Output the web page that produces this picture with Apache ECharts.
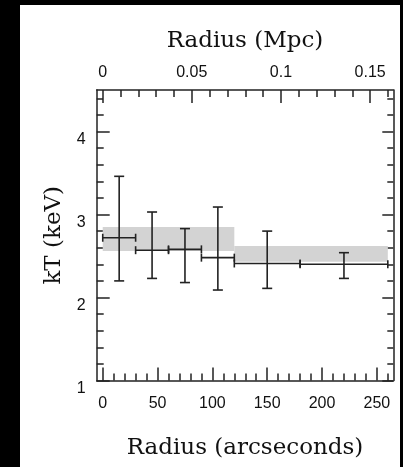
<!DOCTYPE html>
<html>
<head>
<meta charset="utf-8">
<script src="https://cdn.jsdelivr.net/npm/echarts@6/dist/echarts.min.js"></script>
<style>
  html, body { margin: 0; padding: 0; background: #000; }
  #chart { position: absolute; left: 20px; top: 5px; width: 380px; height: 462px; background: #fff; }
</style>
</head>
<body>
<div id="chart"></div>
<script>
// temperature profile: bins in arcsec, kT in keV
const binLo = [0, 30, 60, 90, 120, 180]
const binHi = [30, 60, 90, 120, 180, 260]
const binMid = [15, 45, 75, 105, 150, 220]
const kT = [2.72, 2.57, 2.58, 2.48, 2.41, 2.40]
const kTLo = [2.20, 2.23, 2.18, 2.09, 2.11, 2.23]
const kTHi = [3.46, 3.03, 2.83, 3.09, 2.80, 2.54]

// shaded bands (deprojected / mean fits)
const bandLo = [0, 120]
const bandHi = [120, 260]
const bandMin = [2.56, 2.43]
const bandMax = [2.85, 2.62]

// ticks
const arcMajor = [0, 50, 100, 150, 200, 250]
const arcMinor = [10, 20, 30, 40, 60, 70, 80, 90, 110, 120, 130, 140, 160, 170, 180, 190, 210, 220, 230, 240, 260]
const mpcMajor = [0, 0.05, 0.1, 0.15]
const mpcMinor = [0.01, 0.02, 0.03, 0.04, 0.06, 0.07, 0.08, 0.09, 0.11, 0.12, 0.13, 0.14, 0.16]
const kTMajor = [1, 2, 3, 4]
const kTMinor = [1.2, 1.4, 1.6, 1.8, 2.2, 2.4, 2.6, 2.8, 3.2, 3.4, 3.6, 3.8, 4.2, 4.4]

const INK = '#222'
const labelFont = { color: '#111', fontFamily: 'Liberation Sans', fontSize: 16 }
const nameFont = { color: '#111', fontFamily: 'DejaVu Serif', fontSize: 23 }

const chart = echarts.init(document.getElementById('chart'), null, { renderer: 'canvas' })

function tickAxis(base, values, len, withLabels, extra) {
  return Object.assign({
    type: 'value',
    splitLine: { show: false },
    axisLine: { show: withLabels, onZero: false, lineStyle: { color: INK, width: 1.5 } },
    axisTick: { show: true, inside: true, length: len, customValues: values, lineStyle: { color: INK, width: 1.5 } },
    axisLabel: Object.assign({ show: withLabels, customValues: values }, labelFont),
  }, base, extra || {})
}

const xMin = -5.5, xMax = 265
const mMin = -0.0033, mMax = 0.163

chart.setOption({
  animation: false,
  grid: { left: 76.7, right: 6.7, top: 85, bottom: 86.5, show: false },
  xAxis: [
    tickAxis({ position: 'bottom', min: xMin, max: xMax }, arcMajor, 13, true, {
      name: 'Radius (arcseconds)', nameLocation: 'middle', nameGap: 56, nameTextStyle: nameFont,
      axisLabel: Object.assign({ show: true, customValues: arcMajor, margin: 15 }, labelFont),
    }),
    tickAxis({ position: 'bottom', min: xMin, max: xMax }, arcMinor, 7, false),
    tickAxis({ position: 'top', min: mMin, max: mMax }, mpcMajor, 13, true, {
      name: 'Radius (Mpc)', nameLocation: 'middle', nameGap: 37, nameTextStyle: nameFont,
      axisLabel: Object.assign({ show: true, customValues: mpcMajor, margin: 9 }, labelFont),
    }),
    tickAxis({ position: 'top', min: mMin, max: mMax }, mpcMinor, 7, false),
  ],
  yAxis: [
    tickAxis({ position: 'left', min: 1, max: 4.5 }, kTMajor, 13, true, {
      name: 'kT (keV)', nameLocation: 'middle', nameGap: 28, nameTextStyle: nameFont,
      axisLabel: Object.assign({ show: true, customValues: kTMajor, margin: 11, verticalAlign: 'top' }, labelFont),
    }),
    tickAxis({ position: 'left', min: 1, max: 4.5 }, kTMinor, 7, false),
    tickAxis({ position: 'right', min: 1, max: 4.5 }, kTMajor, 11, true, {
      axisLabel: { show: false, customValues: kTMajor },
    }),
    tickAxis({ position: 'right', min: 1, max: 4.5 }, kTMinor, 6, false),
  ],
  series: [
    {
      type: 'custom',
      xAxisIndex: 0, yAxisIndex: 0,
      z: 1,
      data: bandLo.map((x, i) => [x, bandHi[i], bandMin[i], bandMax[i]]),
      encode: { x: [0, 1], y: [2, 3] },
      renderItem: (params, api) => {
        const p0 = api.coord([api.value(0), api.value(3)])
        const p1 = api.coord([api.value(1), api.value(2)])
        return {
          type: 'rect',
          shape: { x: p0[0], y: p0[1], width: p1[0] - p0[0], height: p1[1] - p0[1] },
          style: { fill: '#d3d3d3' },
        }
      },
    },
    {
      type: 'custom',
      xAxisIndex: 0, yAxisIndex: 0,
      z: 2,
      data: binMid.map((x, i) => [x, kT[i], binLo[i], binHi[i], kTLo[i], kTHi[i]]),
      encode: { x: [0, 2, 3], y: [1, 4, 5] },
      renderItem: (params, api) => {
        const c = api.coord([api.value(0), api.value(1)])
        const l = api.coord([api.value(2), api.value(1)])
        const r = api.coord([api.value(3), api.value(1)])
        const lo = api.coord([api.value(0), api.value(4)])
        const hi = api.coord([api.value(0), api.value(5)])
        const st = { stroke: INK, lineWidth: 1.6 }
        const ln = (x1, y1, x2, y2) => ({ type: 'line', shape: { x1, y1, x2, y2 }, style: st })
        return {
          type: 'group',
          children: [
            ln(l[0], c[1], r[0], c[1]),
            ln(l[0], c[1] - 4, l[0], c[1] + 4),
            ln(r[0], c[1] - 4, r[0], c[1] + 4),
            ln(c[0], lo[1], c[0], hi[1]),
            ln(c[0] - 5, lo[1], c[0] + 5, lo[1]),
            ln(c[0] - 5, hi[1], c[0] + 5, hi[1]),
          ],
        }
      },
    },
  ],
})
</script>
</body>
</html>
